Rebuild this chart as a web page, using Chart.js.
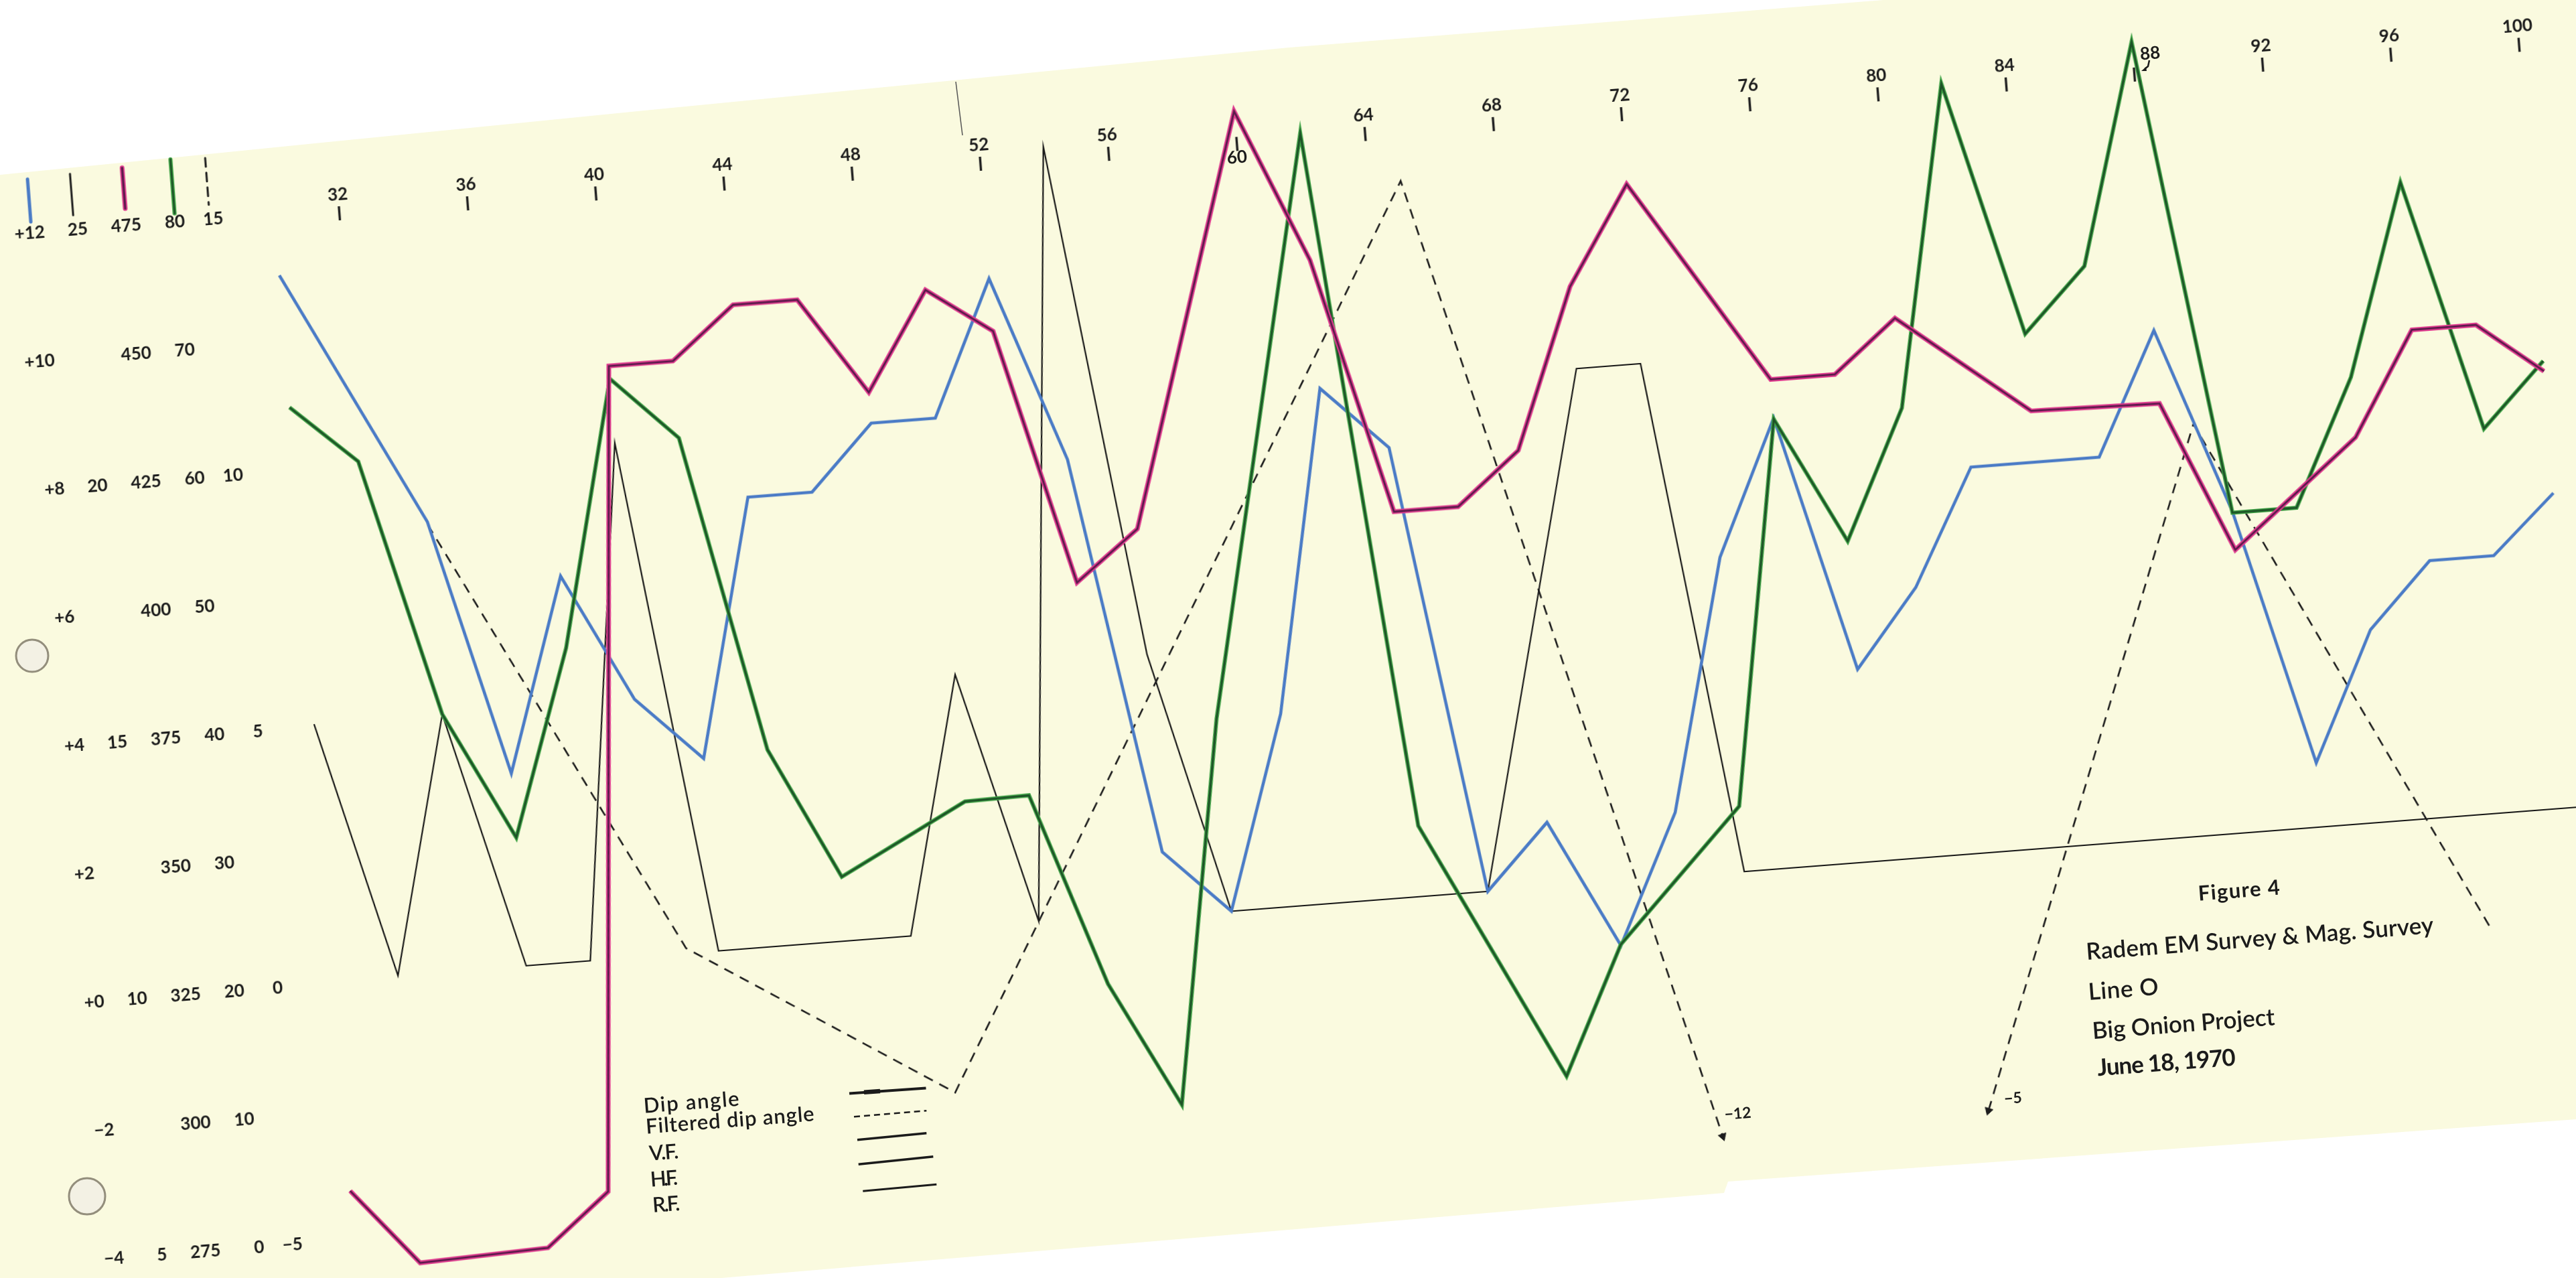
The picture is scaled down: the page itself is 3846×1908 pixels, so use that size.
<!DOCTYPE html>
<html>
<head>
<meta charset="utf-8">
<title>Figure 4 — Radem EM Survey & Mag. Survey, Line O</title>
<script src="https://cdn.jsdelivr.net/npm/chart.js@4.4.1/dist/chart.umd.min.js"></script>
<style>
  html, body { margin: 0; padding: 0; width: 3846px; height: 1908px; overflow: hidden; background: #ffffff; }
  #paperBg, #notes { position: absolute; left: 0; top: 0; }
  #sheet { position: absolute; }
  #notes text { font-family: 'Lato', 'DejaVu Sans', sans-serif; fill: #1b1b1b; }
  #notes .num { font-weight: bold; }
</style>
</head>
<body>

<!-- paper sheet, binder holes -->
<svg id="paperBg" width="3846" height="1908">
  <polygon fill="#fafadf"
    points="0,261 962,165 1924,71 2812,0 3846,0 3846,1671 2580,1764 2574,1781 1924,1836 1077,1908 0,1908"/>
  <circle cx="48" cy="979" r="24" fill="#f3f1e4" stroke="#938e7c" stroke-width="3"/>
  <circle cx="130" cy="1786" r="27" fill="#f3f1e4" stroke="#938e7c" stroke-width="3"/>
  <line x1="1427" y1="122" x2="1437" y2="202" stroke="#555" stroke-width="1.5"/>
</svg>

<div id="sheet"><canvas id="profile"></canvas></div>

<!-- hand lettering: legend, title block, off-scale notes -->
<svg id="notes" width="3846" height="1908">
  <g font-size="31" font-weight="600">
    <text x="961.7" y="1661.7" textLength="143" lengthAdjust="spacing" transform="rotate(-4.42 961.7 1661.7)">Dip angle</text>
    <text x="965" y="1692.7" textLength="252" lengthAdjust="spacing" transform="rotate(-4.42 965 1692.7)">Filtered dip angle</text>
    <text x="970" y="1732.7" textLength="44" lengthAdjust="spacing" transform="rotate(-4.42 970 1732.7)">V.F.</text>
    <text x="971.7" y="1771.7" textLength="41" lengthAdjust="spacing" transform="rotate(-4.42 971.7 1771.7)">H.F.</text>
    <text x="975" y="1810" textLength="41" lengthAdjust="spacing" transform="rotate(-4.42 975 1810)">R.F.</text>
  </g>
  <g stroke="#1b1b1b" fill="none">
    <line x1="1268" y1="1632.6" x2="1382.5" y2="1624.5" stroke-width="4"/>
    <line x1="1290" y1="1630.8" x2="1314" y2="1629.1" stroke-width="6.5"/>
    <line x1="1275" y1="1667.3" x2="1383.3" y2="1658.3" stroke-width="2.5" stroke-dasharray="9 6"/>
    <line x1="1280" y1="1701.7" x2="1383.3" y2="1691.7" stroke-width="3.5"/>
    <line x1="1281.7" y1="1738.3" x2="1393.3" y2="1726.7" stroke-width="3.5"/>
    <line x1="1288.3" y1="1778.3" x2="1398.3" y2="1768.3" stroke-width="3"/>
  </g>

  <text x="3282.8" y="1344.8" font-size="31" font-weight="bold" textLength="122" lengthAdjust="spacing" transform="rotate(-4.42 3282.8 1344.8)">Figure 4</text>
  <g font-size="35" font-weight="600">
    <text x="3115.6" y="1433" textLength="520" lengthAdjust="spacing" transform="rotate(-4.42 3115.6 1433)">Radem EM Survey &amp; Mag. Survey</text>
    <text x="3118.7" y="1493" textLength="105" lengthAdjust="spacing" transform="rotate(-4.42 3118.7 1493)">Line O</text>
    <text x="3124.8" y="1551.2" textLength="273" lengthAdjust="spacing" transform="rotate(-4.42 3124.8 1551.2)">Big Onion Project</text>
    <text x="3132.2" y="1606.3" font-weight="bold" textLength="207" lengthAdjust="spacing" transform="rotate(-4.42 3132.2 1606.3)">June 18, 1970</text>
  </g>

  <g font-size="23" font-weight="bold" text-anchor="middle" dominant-baseline="central">
    <text x="2594.5" y="1661.3" transform="rotate(-4.42 2594.5 1661.3)">−12</text>
    <text x="3005.4" y="1638.4" transform="rotate(-4.42 3005.4 1638.4)">−5</text>
  </g>
  <g font-size="26" text-anchor="middle" dominant-baseline="central">
    <text class="num" x="1846.8" y="233.6" transform="rotate(-4.42 1846.8 233.6)">60</text>
    <text class="num" x="3210" y="78.3" transform="rotate(-4.42 3210 78.3)">88</text>
  </g>
  <path d="M3209,90 L3207,99 L3202,103" stroke="#1b1b1b" stroke-width="2.5" fill="none"/>
  <polygon points="3197,106 3204,100 3205,106" fill="#1b1b1b"/>
</svg>

<script>
// ── SURVEY DATA, LINE O ──
const stations = [30, 32, 34, 36, 38, 40, 42, 44, 46, 48, 50, 52, 54, 56, 58, 60, 62, 64,
                  66, 68, 70, 72, 74, 76, 78, 80, 82, 84, 86, 88, 90, 92, 94, 96, 98, 100];

// dip angle, degrees (blue)
const dipAngle = [11.0, null, 7.0, 3.0, 6.0, 4.0, 3.0, 7.0, 7.0, 8.0, 8.0, 10.1, 7.2, 1.0, 0.0, 3.0, 8.0, 7.0,
                  0.0, 1.0, -1.0, 1.0, 4.9, 7.0, 3.0, 4.2, 6.0, null, 6.0, 7.9, 5.0, 1.0, 3.0, 4.0, 4.0, 4.9];

// V.F. (thin black)
const vfValues = [15.0, 10.0, 15.0, 10.0, 10.0, 20.0, 10.0, null, null, 10.0, 15.0, 10.1, 25.1, 15.1, 10.0, null, null, null,
                  10.0, null, 20.0, 20.0, 10.0, null, null, null, null, null, null, null, null, null, null, null, null, 10.0];

// H.F. (magenta)
const hfValues = [284, 269, null, 270, 280, 440, 440, 450, 450, 431, 450, 441, 391, 400.5, null, 480, 450, 400,
                  400, 410, 441, 460, null, 420, 420, 430, null, 410, null, 409.5, 380, null, 400, 420, 420, 410];

// R.F. (green)
const rfValues = [64.7, 60.1, 40.0, 30.0, 44.4, 65.0, 60.0, 35.3, 25.0, null, 30.1, 30.2, 15.1, 5.3, 35.0, null, 79.9, 25.5,
                  null, 5.2, 15.1, null, 25.1, 54.9, 45.0, 55.0, 79.9, 60.0, 64.9, 82.0, 44.9, 44.9, 54.7, 69.5, 49.9, 54.8];

// filtered dip angle (dashed), plotted between stations; runs off scale at 72.7 and 81
const filtStations = [34, 41, 49, 65, 72.7, 77, 81, 89, 97];
const filtValues   = [8.7, 0.1, -3.1, 13.9, -5.1, null, -5.0, 8.0, -2.2];

// ── TICK LABELS ──
const stationTicks = [32, 36, 40, 44, 48, 52, 56, 60, 64, 68, 72, 76, 80, 84, 88, 92, 96, 100];
const dipTicks  = [12, 10, 8, 6, 4, 2, 0, -2, -4];
const vfTicks   = [25, 20, 15, 10, 5];
const hfTicks   = [475, 450, 425, 400, 375, 350, 325, 300, 275];
const rfTicks   = [80, 70, 60, 50, 40, 30, 20, 10, 0];
const filtTicks = [15, 10, 5, 0, -5];

// ── SHEET GEOMETRY (paper px) ──
const PX_STATION = 48;      // one station along the line
const PX_ROW     = 192;     // one row of the left-hand scales
const ROW0_V     = -7.7;    // top row (+12) sits on the tick line
const X_MIN = 18.5, X_MAX = 102.5;
const ROW_TOP = -2, ROW_BOT = 10;
const PAD = 40;
const TILT = -4.42;         // the sheet is scanned slightly rotated
const ANCHOR = [506, 316];  // screen position of the station 32 tick

// palette
const INK     = '#1c1c1c';
const BLUE    = '#4a7bc6';
const PINK    = '#e03c8f';
const PLUM    = '#5a1a4a';
const GREEN   = '#3fa346';
const DKGREEN = '#1d5226';

// ── PLACE THE ROTATED SHEET ──
const sheet = document.getElementById('sheet');
const sheetW = 2 * PAD + (X_MAX - X_MIN) * PX_STATION;
const sheetH = 2 * PAD + (ROW_BOT - ROW_TOP) * PX_ROW;
const ox = PAD + (32 - X_MIN) * PX_STATION;
const oy = PAD - ROW0_V - ROW_TOP * PX_ROW;
sheet.style.width  = sheetW + 'px';
sheet.style.height = sheetH + 'px';
sheet.style.left   = (ANCHOR[0] - ox) + 'px';
sheet.style.top    = (ANCHOR[1] - oy) + 'px';
sheet.style.transformOrigin = ox + 'px ' + oy + 'px';
sheet.style.transform = 'rotate(' + TILT + 'deg)';

Chart.defaults.font.family = "'Lato','DejaVu Sans',sans-serif";
Chart.defaults.font.weight = 'bold';
Chart.defaults.color = INK;

const pts = (xs, ys) => xs.map((x, i) => ({ x: x, y: ys[i] }));

const signed = v => (v > 0 ? '+' + v : v === 0 ? '+0' : '\u2212' + Math.abs(v));
const plain  = v => (v < 0 ? '\u2212' + Math.abs(v) : String(v));

// one left-hand scale column: value at row 0 and change per row
function rowScale(top, perRow, col, ticks, fmt) {
    return {
        type: 'linear',
        axis: 'y',
        position: { x: col },
        min: top - ROW_BOT * perRow,
        max: top - ROW_TOP * perRow,
        grid:   { display: false },
        border: { display: false },
        afterBuildTicks: (axis) => { axis.ticks = ticks.map(v => ({ value: v })); },
        ticks: {
            font: { size: 26, weight: 'bold' },
            color: INK,
            padding: 0,
            labelOffset: 5,
            autoSkip: false,
            callback: fmt
        }
    };
}

// arrowheads on the dashed line where it runs off scale
const ARROW_FROM = { 4: 3, 6: 7 };
function arrowRotation(c) {
    const from = ARROW_FROM[c.dataIndex];
    if (from === undefined) return 0;
    const xs = c.chart.scales.x, ys = c.chart.scales.yFilt;
    const dx = xs.getPixelForValue(filtStations[c.dataIndex]) - xs.getPixelForValue(filtStations[from]);
    const dy = ys.getPixelForValue(filtValues[c.dataIndex]) - ys.getPixelForValue(filtValues[from]);
    return Math.atan2(dx, -dy) * 180 / Math.PI;
}

// short coloured strokes heading each scale column
const KEYS = [
    { at: 22.42, top: -84, bot: -20, color: BLUE,  width: 5 },
    { at: 23.75, top: -87, bot: -25, color: INK,   width: 3 },
    { at: 25.38, top: -90, bot: -29, color: PINK,  width: 7, core: PLUM },
    { at: 26.90, top: -97, bot: -16, color: GREEN, width: 6, core: DKGREEN },
    { at: 27.98, top: -95, bot: -25, color: INK,   width: 3, dash: [13, 9] }
];
const columnKeys = {
    id: 'columnKeys',
    afterDraw(chart) {
        const { ctx, scales } = chart;
        const tickLine = scales.yDip.getPixelForValue(12) - ROW0_V;
        KEYS.forEach(k => {
            const x = scales.x.getPixelForValue(k.at);
            ctx.save();
            ctx.lineCap = 'round';
            ctx.setLineDash(k.dash || []);
            ctx.strokeStyle = k.color;
            ctx.lineWidth = k.width;
            ctx.beginPath();
            ctx.moveTo(x, tickLine + k.top);
            ctx.lineTo(x, tickLine + k.bot);
            ctx.stroke();
            if (k.core) {
                ctx.strokeStyle = k.core;
                ctx.lineWidth = k.width * 0.45;
                ctx.stroke();
            }
            ctx.restore();
        });
    }
};

const line = (extra) => Object.assign({
    tension: 0,
    pointRadius: 0,
    spanGaps: true,
    fill: false
}, extra);

new Chart(document.getElementById('profile'), {
    type: 'line',
    data: {
        datasets: [
            line({ label: 'H.F.', data: pts(stations, hfValues), yAxisID: 'yHF',
                   borderColor: PLUM, borderWidth: 2.8, order: 0 }),
            line({ label: 'H.F.', data: pts(stations, hfValues), yAxisID: 'yHF',
                   borderColor: PINK, borderWidth: 7, order: 1 }),
            line({ label: 'R.F.', data: pts(stations, rfValues), yAxisID: 'yRF',
                   borderColor: DKGREEN, borderWidth: 3, order: 2 }),
            line({ label: 'R.F.', data: pts(stations, rfValues), yAxisID: 'yRF',
                   borderColor: GREEN, borderWidth: 6, order: 3 }),
            line({ label: 'Dip angle', data: pts(stations, dipAngle), yAxisID: 'yDip',
                   borderColor: BLUE, borderWidth: 4.6, order: 4 }),
            line({ label: 'Filtered dip angle', data: pts(filtStations, filtValues), yAxisID: 'yFilt',
                   borderColor: INK, borderWidth: 2.6, borderDash: [15, 11], spanGaps: false, order: 5,
                   pointStyle: 'triangle',
                   pointRadius: c => (ARROW_FROM[c.dataIndex] !== undefined ? 7 : 0),
                   pointRotation: arrowRotation,
                   pointBackgroundColor: INK, pointBorderColor: INK, pointBorderWidth: 1 }),
            line({ label: 'V.F.', data: pts(stations, vfValues), yAxisID: 'yVF',
                   borderColor: '#161616', borderWidth: 2.2, order: 6 })
        ]
    },
    options: {
        responsive: true,
        maintainAspectRatio: false,
        animation: false,
        events: [],
        layout: { padding: PAD },
        plugins: {
            legend:  { display: false },
            tooltip: { enabled: false }
        },
        scales: {
            x: {
                type: 'linear',
                axis: 'x',
                position: { yDip: 12 },
                min: X_MIN,
                max: X_MAX,
                afterBuildTicks: (axis) => { axis.ticks = stationTicks.map(v => ({ value: v })); },
                grid: {
                    display: true,
                    drawOnChartArea: false,
                    drawTicks: true,
                    tickLength: 21,
                    tickWidth: 3.5,
                    tickColor: '#222222'
                },
                border: { display: false },
                ticks: {
                    font: { size: 26, weight: 'bold' },
                    color: INK,
                    padding: -54,
                    autoSkip: false,
                    maxRotation: 0,
                    // 60 and 88 are lettered off the usual spot on the sheet
                    callback: v => (v === 60 || v === 88 ? '' : String(v))
                }
            },
            yDip:  rowScale(12,  2,   22.83, dipTicks,  signed),
            yVF:   rowScale(25,  2.5, 24.17, vfTicks,   plain),
            yHF:   rowScale(475, 25,  25.84, hfTicks,   plain),
            yRF:   rowScale(80,  10,  27.20, rfTicks,   plain),
            yFilt: rowScale(15,  2.5, 28.40, filtTicks, plain)
        }
    },
    plugins: [columnKeys]
});
</script>
</body>
</html>
